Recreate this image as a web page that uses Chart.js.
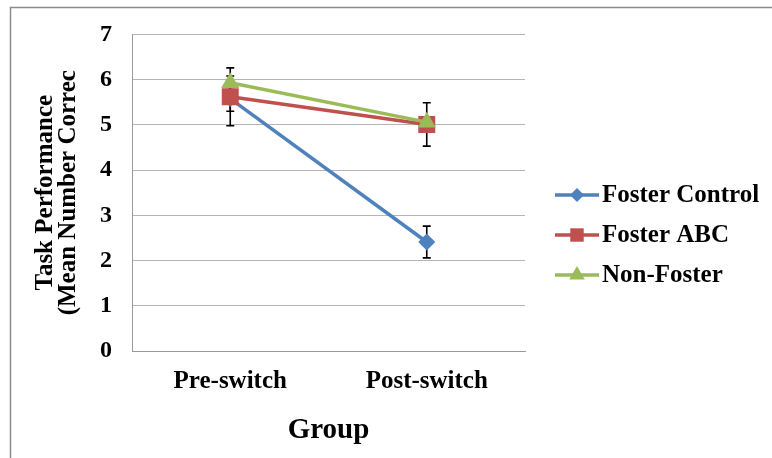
<!DOCTYPE html>
<html>
<head>
<meta charset="utf-8">
<script src="https://cdn.jsdelivr.net/npm/chart.js@4/dist/chart.umd.min.js"></script>
<style>
  html, body { margin: 0; padding: 0; background: #ffffff; }
  #wrap { width: 772px; height: 458px; position: relative; }
</style>
</head>
<body>
<div id="wrap"><canvas id="c" width="772" height="458"></canvas></div>
<script>
const categories = ['Pre-switch', 'Post-switch'];
const seriesNames = ['Foster Control', 'Foster ABC', 'Non-Foster'];
const fosterControl = [5.58, 2.41];
const fosterControlErr = [0.28, 0.35];
const fosterABC = [5.62, 5.01];
const fosterABCErr = [0.64, 0.48];
const nonFoster = [5.93, 5.06];
const nonFosterErr = [0.15, 0.12];
const yTickValues = [0, 1, 2, 3, 4, 5, 6, 7];
const yTitle = ['Task Performance', '(Mean Number Correc'];
const xTitle = 'Group';

const FONT = '"Liberation Serif", "Times New Roman", serif';
const colors = ['#4f81bd', '#c0504d', '#9bbb59'];
const styles = ['rectRot', 'rect', 'triangle'];
const radii = [8.5, 12, 10.5];
const legendRadii = [7, 9.5, 9];
const errs = [fosterControlErr, fosterABCErr, nonFosterErr];

function drawMarker(ctx, style, x, y, r, color) {
  ctx.save();
  ctx.fillStyle = color;
  ctx.beginPath();
  if (style === 'rect') {
    const s = Math.SQRT1_2 * r;
    ctx.rect(x - s, y - s, 2 * s, 2 * s);
  } else if (style === 'rectRot') {
    ctx.moveTo(x, y - r); ctx.lineTo(x + r, y); ctx.lineTo(x, y + r); ctx.lineTo(x - r, y);
    ctx.closePath();
  } else {
    let a = 0;
    ctx.moveTo(x + Math.sin(a) * r, y - Math.cos(a) * r);
    a += 2 * Math.PI / 3;
    ctx.lineTo(x + Math.sin(a) * r, y - Math.cos(a) * r);
    a += 2 * Math.PI / 3;
    ctx.lineTo(x + Math.sin(a) * r, y - Math.cos(a) * r);
    ctx.closePath();
  }
  ctx.fill();
  ctx.restore();
}

const frame = {
  id: 'frame',
  beforeDraw(chart) {
    const ctx = chart.ctx;
    ctx.save();
    ctx.fillStyle = '#ffffff';
    ctx.fillRect(0, 0, chart.width, chart.height);
    ctx.strokeStyle = '#8c8c8c';
    ctx.lineWidth = 1.5;
    ctx.strokeRect(10.5, 7.5, chart.width + 20, chart.height + 20);
    ctx.restore();
  }
};

const errorBars = {
  id: 'errorBars',
  beforeDatasetsDraw(chart) {
    const ctx = chart.ctx;
    const y = chart.scales.y;
    ctx.save();
    ctx.strokeStyle = '#000000';
    ctx.lineWidth = 1.6;
    chart.data.datasets.forEach((ds, i) => {
      const meta = chart.getDatasetMeta(i);
      meta.data.forEach((pt, j) => {
        const v = ds.data[j], e = errs[i][j];
        const top = y.getPixelForValue(v + e);
        const bot = y.getPixelForValue(v - e);
        const x = pt.x;
        ctx.beginPath();
        ctx.moveTo(x, top); ctx.lineTo(x, bot);
        ctx.moveTo(x - 4, top); ctx.lineTo(x + 4, top);
        ctx.moveTo(x - 4, bot); ctx.lineTo(x + 4, bot);
        ctx.stroke();
      });
    });
    ctx.restore();
  }
};

const customLegend = {
  id: 'customLegend',
  afterDraw(chart) {
    const ctx = chart.ctx;
    ctx.save();
    chart.data.datasets.forEach((ds, i) => {
      const yy = 195 + i * 40;
      ctx.strokeStyle = ds.borderColor;
      ctx.lineWidth = 3.5;
      ctx.beginPath();
      ctx.moveTo(555, yy); ctx.lineTo(599, yy);
      ctx.stroke();
      drawMarker(ctx, styles[i], 577, yy, legendRadii[i], ds.borderColor);
      ctx.fillStyle = '#000000';
      ctx.font = 'bold 25px ' + FONT;
      ctx.textBaseline = 'middle';
      ctx.textAlign = 'left';
      ctx.fillText(ds.label, 602, yy + 1);
    });
    ctx.restore();
  }
};

const seriesData = [fosterControl, fosterABC, nonFoster];
const datasets = seriesData.map((d, i) => ({
  label: seriesNames[i],
  data: d,
  borderColor: colors[i],
  backgroundColor: colors[i],
  borderWidth: 3.5,
  pointStyle: styles[i],
  pointRadius: radii[i],
  pointBorderWidth: 0,
  pointBackgroundColor: colors[i],
  pointBorderColor: colors[i],
  order: 2 - i,
  tension: 0
}));

new Chart(document.getElementById('c'), {
  type: 'line',
  data: { labels: categories, datasets: datasets },
  plugins: [frame, errorBars, customLegend],
  options: {
    responsive: false,
    animation: false,
    events: [],
    layout: { padding: { left: 0, right: 247, top: 31, bottom: 0 } },
    plugins: { legend: { display: false }, tooltip: { enabled: false } },
    scales: {
      x: {
        offset: true,
        grid: { display: false, drawTicks: false },
        border: { display: true, color: '#9a9a9a', width: 1 },
        ticks: { color: '#000', font: { family: FONT, size: 25, weight: 'bold' }, padding: 16, maxRotation: 0 },
        title: { display: true, text: xTitle, color: '#000', font: { family: FONT, size: 29, weight: 'bold' }, padding: { top: 0, bottom: 10 } },
        afterFit(s) { s.height = 107; }
      },
      y: {
        min: 0,
        max: 7,
        afterBuildTicks(s) { s.ticks = yTickValues.map(v => ({ value: v })); },
        grid: { color: '#b5b5b5', lineWidth: 1, drawTicks: false },
        border: { display: true, color: '#9a9a9a', width: 1 },
        ticks: { color: '#000', font: { family: FONT, size: 24, weight: 'bold' }, padding: 20 },
        title: { display: true, text: yTitle, color: '#000', font: { family: FONT, size: 25, weight: 'bold', lineHeight: 0.92 }, padding: { top: 34, bottom: 0 } },
        afterFit(s) { s.width = 132; }
      }
    }
  }
});
</script>
</body>
</html>
